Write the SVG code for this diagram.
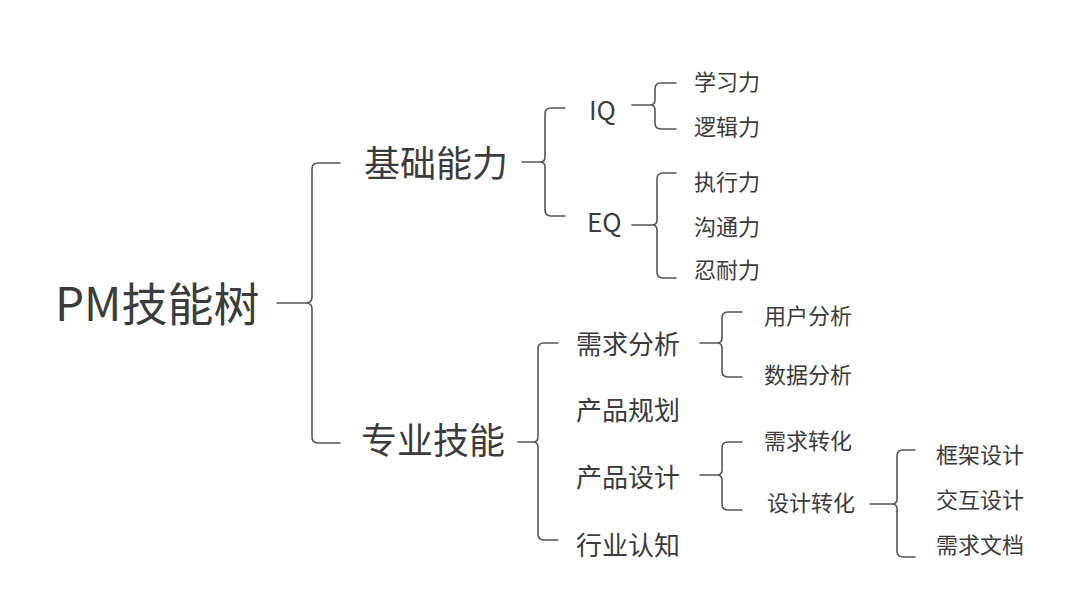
<svg xmlns="http://www.w3.org/2000/svg" width="1080" height="608" viewBox="0 0 1080 608">
<style>
text{font-family:"Noto Sans CJK SC","Microsoft YaHei",sans-serif;fill:#3c3c3c;dominant-baseline:central}
.t0{font-size:46px}
.t1{font-size:36px}
.t2{font-size:26px}
.t3{font-size:22px}
#connectors path{fill:none;stroke:#555;stroke-width:1.6;stroke-linecap:round}
</style>
<rect width="1080" height="608" fill="#fff"/>
<g id="connectors">
<path d="M277,303 H306 Q312,303 312,297 V169 Q312,163 318,163 H340 M312,309 V437 Q312,443 318,443 H340 M306,303 Q312,303 312,309"/>
<path d="M522,162 H540 Q545,162 545,157 V114 Q545,108 551,108 H565 M545,167 V210 Q545,216 551,216 H565 M540,162 Q545,162 545,167"/>
<path d="M632,105 H650 Q655,105 655,100 V89 Q655,83 661,83 H676 M655,110 V123 Q655,129 661,129 H676 M650,105 Q655,105 655,110"/>
<path d="M632,225 H652 Q657,225 657,220 V179 Q657,173 663,173 H676 M657,230 V272 Q657,278 663,278 H676 M652,225 Q657,225 657,230"/>
<path d="M518,442 H533 Q538,442 538,437 V349 Q538,343 544,343 H558 M538,447 V534 Q538,540 544,540 H558 M533,442 Q538,442 538,447"/>
<path d="M700,343 H717 Q722,343 722,338 V318 Q722,312 728,312 H742 M722,348 V371 Q722,377 728,377 H742 M717,343 Q722,343 722,348"/>
<path d="M700,475 H717 Q722,475 722,470 V448 Q722,442 728,442 H742 M722,480 V504 Q722,510 728,510 H742 M717,475 Q722,475 722,480"/>
<path d="M870,504 H892 Q897,504 897,499 V456 Q897,450 903,450 H915 M897,509 V551 Q897,557 903,557 H915 M892,504 Q897,504 897,509"/>
</g>
<g id="root"><text class="t0" x="55" y="301">PM技能树</text></g>
<g id="jichu"><text class="t1" x="364" y="161">基础能力</text></g>
<g id="zhuanye"><text class="t1" x="361" y="438">专业技能</text></g>
<g id="iq"><text class="t2" x="589" y="108">IQ</text></g>
<g id="eq"><text class="t2" x="587" y="220">EQ</text></g>
<g id="xuexi"><text class="t3" x="694" y="80">学习力</text></g>
<g id="luoji"><text class="t3" x="694" y="125">逻辑力</text></g>
<g id="zhixing"><text class="t3" x="694" y="180">执行力</text></g>
<g id="goutong"><text class="t3" x="694" y="225">沟通力</text></g>
<g id="rennai"><text class="t3" x="694" y="268">忍耐力</text></g>
<g id="xuqiufenxi"><text class="t2" x="576" y="342">需求分析</text></g>
<g id="chanpinguihua"><text class="t2" x="576" y="408">产品规划</text></g>
<g id="chanpinsheji"><text class="t2" x="576" y="475">产品设计</text></g>
<g id="hangye"><text class="t2" x="576" y="543">行业认知</text></g>
<g id="yonghu"><text class="t3" x="764" y="314">用户分析</text></g>
<g id="shuju"><text class="t3" x="764" y="373">数据分析</text></g>
<g id="xuqiuzhuanhua"><text class="t3" x="764" y="439">需求转化</text></g>
<g id="shejizhuanhua"><text class="t3" x="767" y="501">设计转化</text></g>
<g id="kuangjia"><text class="t3" x="936" y="453">框架设计</text></g>
<g id="jiaohu"><text class="t3" x="936" y="498">交互设计</text></g>
<g id="wendang"><text class="t3" x="936" y="543">需求文档</text></g>
</svg>
